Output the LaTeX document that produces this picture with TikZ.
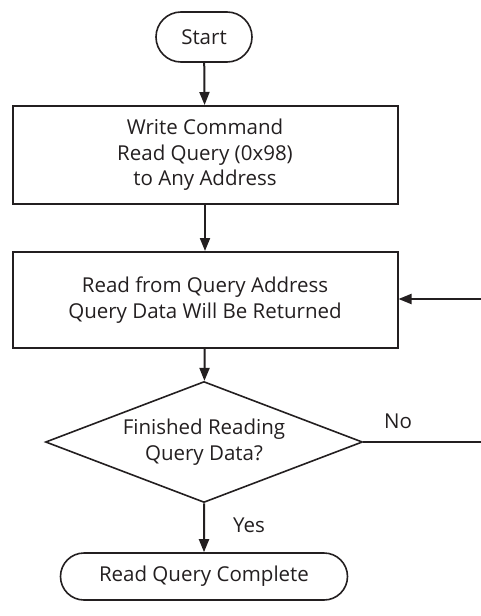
\documentclass[tikz,border=0pt]{standalone}
\usepackage{fontspec}
\setmainfont{Open Sans}
\usetikzlibrary{arrows.meta,shapes.geometric,shapes.misc}
\definecolor{ink}{HTML}{231F20}
\begin{document}
\begin{tikzpicture}[x=1pt,y=-1pt,
  every node/.style={text=ink,font=\fontsize{20.5}{25.5}\selectfont,align=center,inner sep=0pt},
  term/.style={draw=ink,line width=1.6pt,rounded rectangle},
  procbox/.style={draw=ink,line width=2pt,rectangle,minimum width=385pt},
  decide/.style={draw=ink,line width=1.6pt,diamond,aspect=2.62,minimum width=317pt,minimum height=121pt},
  flow/.style={draw=ink,line width=2pt,-{Triangle[length=13pt,width=10pt]}},
  plain/.style={draw=ink,line width=2pt}]
\useasboundingbox (0,0) rectangle (481,616);

\node[term,minimum width=96pt,minimum height=50pt] (start) at (204,37) {Start};
\node[procbox,minimum height=98pt] (write) at (205,155)
  {Write Command\\Read Query (0x98)\\to Any Address};
\node[procbox,minimum height=96pt] (read) at (205,300)
  {Read from Query Address\\Query Data Will Be Returned};
\node[decide] (fin) at (204,442) {Finished Reading\\Query Data?};
\node[term,minimum width=287pt,minimum height=47pt] (done) at (204,576.5) {Read Query Complete};

\coordinate (noend) at (481,442);
\coordinate (backin) at (481,299);

\draw[flow] (start) -- (write);
\draw[flow] (write) -- (read);
\draw[flow] (read) -- (fin);
\draw[flow] (fin) -- (done);
\draw[plain] (fin.east) -- (noend);
\draw[flow] (backin) -- (read.east |- backin);

\node at (398,421) {No};
\node at (249,525) {Yes};
\end{tikzpicture}
\end{document}
